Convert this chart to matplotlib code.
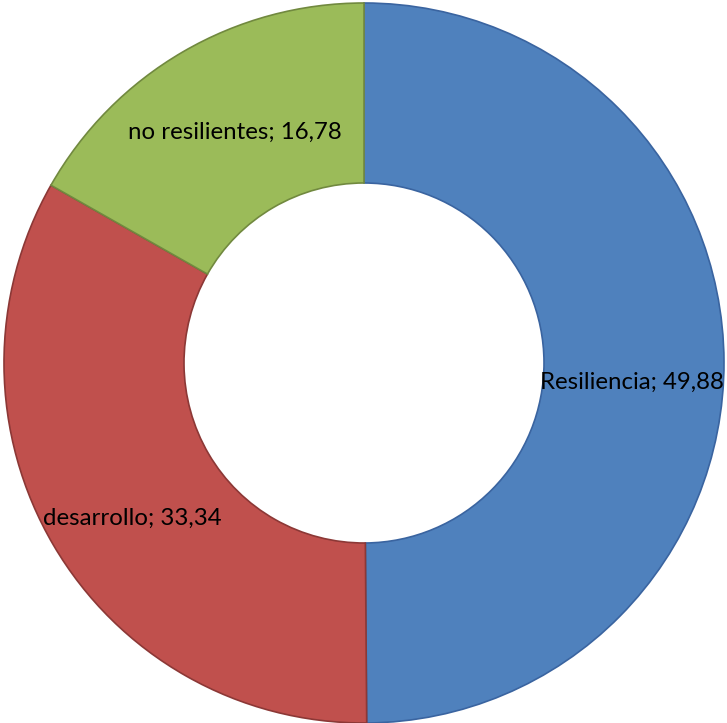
import matplotlib.pyplot as plt

# Shares of each group (percent)
labels = ['Resiliencia', 'desarrollo', 'no resilientes']
values = [49.88, 33.34, 16.78]
colors = ['#4F81BD', '#C0504D', '#9BBB59']
edges = ['#3A64A0', '#8C3836', '#71893F']

# Label anchors in data units (centre of donut at 0, 0)
label_pos = [(0.745, -0.055), (-0.644, -0.432), (-0.358, 0.640)]

plt.rcParams['font.family'] = ['Lato', 'DejaVu Sans']

fig = plt.figure(figsize=(7.27, 7.23), dpi=100)
ax = fig.add_axes([0, 0, 1, 1])

wedges, _ = ax.pie(values, colors=colors, startangle=90, counterclock=False,
                   radius=1.0, wedgeprops=dict(width=0.5, linewidth=1.2))
for w, ec in zip(wedges, edges):
    w.set_edgecolor(ec)

for lab, val, (x, y) in zip(labels, values, label_pos):
    txt = f'{lab}; {val:.2f}'.replace('.', ',')
    ax.text(x, y, txt, ha='center', va='center', fontsize=17.3, color='black')

ax.set_xlim(-364 / 360, (727 - 364) / 360)
ax.set_ylim(-(723 - 363) / 360, 363 / 360)
ax.set_aspect('equal')
ax.axis('off')

fig.savefig('out.png', dpi=100)
